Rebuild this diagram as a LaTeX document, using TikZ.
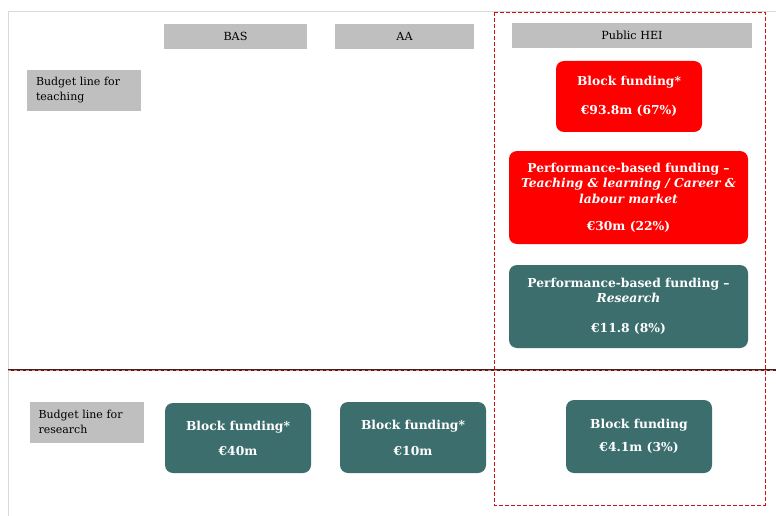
\documentclass[tikz,border=0pt]{standalone}
\usepackage{fontspec}
\setmainfont{DejaVu Serif}
\usetikzlibrary{positioning}

\definecolor{hdrgray}{HTML}{BFBFBF}
\definecolor{fundred}{HTML}{FF0000}
\definecolor{fundteal}{HTML}{3D6E6E}
\definecolor{framegray}{HTML}{D9D9D9}
\definecolor{divdark}{HTML}{4A1E1E}
\definecolor{divpink}{HTML}{F07878}
\definecolor{dashred}{HTML}{D01010}

\begin{document}
\begin{tikzpicture}[x=1pt, y=-1pt,
    colhead/.style={fill=hdrgray, minimum height=25pt, inner sep=0pt, font=\fontsize{11.2}{13}\selectfont},
    rowhead/.style={fill=hdrgray, align=left, text width=96pt, inner xsep=9pt, inner ysep=0pt, minimum height=41pt, font=\fontsize{11}{15}\selectfont},
    fundbox/.style={rounded corners=8pt, text=white, align=center, inner sep=0pt, font=\bfseries\fontsize{12.3}{15.5}\selectfont},
    redbox/.style={fundbox, fill=fundred},
    tealbox/.style={fundbox, fill=fundteal}]
    \useasboundingbox (0,0) rectangle (776,516);

    % Frame of the table
    \draw[framegray, thick] (8,516) -- (8,11) -- (776,11);

    % Column heads
    \node[colhead, minimum width=143pt] (hBAS) at (235.5,36.5) {BAS};
    \node[colhead, minimum width=139pt] (hAA) at (404.5,36.5) {AA};
    \node[colhead, minimum width=240pt] (hHEI) at (632,35.5) {Public HEI};

    % Row heads
    \node[rowhead] (lTeach) at (84,90.5) {Budget line for\\teaching};
    \node[rowhead] (lRes) at (86.5,422) {Budget line for\\research};

    % Teaching: public HEI
    \node[redbox, minimum width=146pt, minimum height=71pt] (tBlock) at (629,96.5)
        {Block funding*\\[13.5pt]€93.8m (67\%)};
    \node[redbox, minimum width=239pt, minimum height=93pt] (tPerf) at (628.5,197.5)
        {Performance-based funding --\\\textit{Teaching \& learning / Career \&}\\\textit{labour market}\\[11.5pt]€30m (22\%)};
    \node[tealbox, minimum width=239pt, minimum height=83pt] (rPerf) at (628.5,306.5)
        {Performance-based funding --\\\textit{Research}\\[14.5pt]€11.8 (8\%)};

    % Research: all three columns
    \node[tealbox, minimum width=146pt, minimum height=70pt] (rBAS) at (238,438)
        {Block funding*\\[9.5pt]€40m};
    \node[tealbox, minimum width=146pt, minimum height=71pt] (rAA) at (413,437.5)
        {Block funding*\\[10.5pt]€10m};
    \node[tealbox, minimum width=146pt, minimum height=73pt] (rHEI) at (639,436.5)
        {Block funding\\[7.5pt]€4.1m (3\%)};

    % Divider between teaching and research
    \draw[divdark, line width=1.3pt] (8,370) -- (776,370);
    \draw[divpink, line width=0.7pt, dash pattern=on 3pt off 3pt] (8,370) -- (776,370);

    % Public HEI column frame
    \draw[dashred, thin, dash pattern=on 4pt off 2pt] (494,12) rectangle (765,505);
\end{tikzpicture}
\end{document}
